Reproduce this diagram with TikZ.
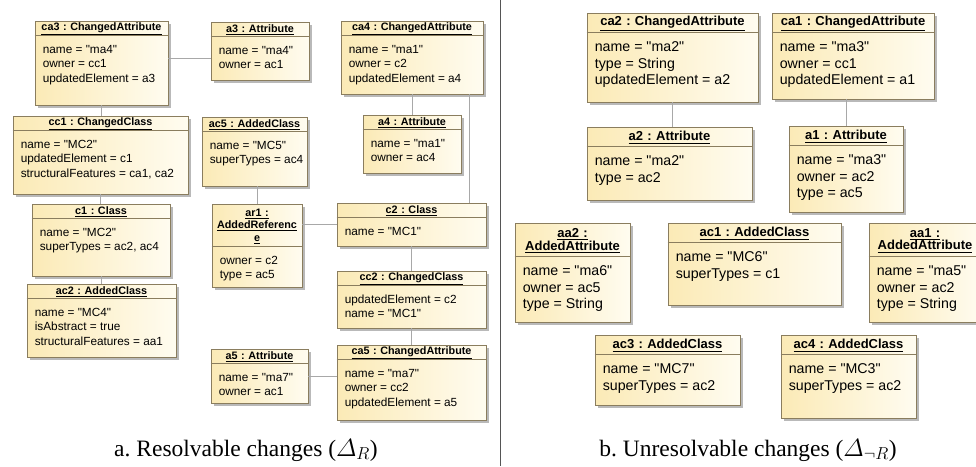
\documentclass[tikz,border=0pt]{standalone}
\usepackage{amsmath,amssymb}
\usepackage{fontspec}
\setmainfont{Liberation Serif}
\newfontfamily\boxfont{Liberation Sans}
\usepackage{xcolor}
\usepackage{tikz}
\usetikzlibrary{calc,shadows}
\frenchspacing
\definecolor{boxfill}{HTML}{FBEAB6}
\definecolor{boxlight}{HTML}{FFFCF0}
\definecolor{boxedge}{HTML}{8A7D5E}
\definecolor{linkgray}{HTML}{A8A8A8}
\definecolor{divider}{HTML}{555555}
\tikzset{
  objbox/.style={draw=boxedge, line width=0.8pt, left color=boxfill, right color=boxlight, inner sep=0pt,
    drop shadow={shadow xshift=2.5pt, shadow yshift=-2.5pt, fill=black!50, opacity=0.55}},
  objsep/.style={draw=boxedge, line width=0.7pt},
  objhead/.style={inner sep=0pt, align=center, font=\boxfont\bfseries\fontsize{10.8}{12.5}\selectfont},
  objtext/.style={inner sep=0pt, align=left, anchor=north west, font=\boxfont\fontsize{11.8}{14.5}\selectfont},
  link/.style={draw=linkgray, line width=0.8pt},
  divline/.style={draw=divider, line width=1pt},
  caption/.style={anchor=base, font=\fontsize{23.5}{26}\selectfont},
}
% #1 name, #2 x, #3 y, #4 width, #5 height, #6 header height, #7 title, #8 slots
\newcommand{\umlobj}[8]{%
  \node[objbox, minimum width=#4, minimum height=#5] (#1) at ({#2+#4/2},{#3+#5/2}) {};
  \draw[objsep] ([yshift=-#6]#1.north west) -- ([yshift=-#6]#1.north east);
  \node[objhead, text width=#4] (#1-head) at ([yshift=-#6/2-1]#1.north) {#7};
  \node[objtext] (#1-body) at ([xshift=8, yshift=-#6-7.5]#1.north west) {\strut#8};
}

\begin{document}
\begin{tikzpicture}[x=1pt, y=-1pt]
  \useasboundingbox (0,0) rectangle (976,466);

  % a. resolvable changes
  \umlobj{ca3}{35}{21}{133}{84}{15}{\underline{ca3 : ChangedAttribute}}{name = "ma4"\\owner = cc1\\updatedElement = a3}
  \umlobj{a3}{211}{22}{98}{58}{15}{\underline{a3 : Attribute}}{name = "ma4"\\owner = ac1}
  \umlobj{ca4}{341}{21}{142}{73}{15}{\underline{ca4 : ChangedAttribute}}{name = "ma1"\\owner = c2\\updatedElement = a4}
  \umlobj{cc1}{13}{116}{175}{78}{15}{\underline{cc1 : ChangedClass}}{name = "MC2"\\updatedElement = c1\\structuralFeatures = ca1, ca2}
  \umlobj{ac5}{202}{117}{105}{69}{15}{\underline{ac5 : AddedClass}}{name = "MC5"\\superTypes = ac4}
  \umlobj{a4}{363}{115}{98}{58}{15}{\underline{a4 : Attribute}}{name = "ma1"\\owner = ac4}
  \umlobj{c1}{32}{204}{138}{72}{15}{\underline{c1 : Class}}{name = "MC2"\\superTypes = ac2, ac4}
  \umlobj{ar1}{212}{204}{90}{83}{43}{\underline{ar1 :}\\\underline{AddedReferenc}\\\underline{e}}{owner = c2\\type = ac5}
  \umlobj{c2}{337}{203}{149}{43}{15}{\underline{c2 : Class}}{name = "MC1"}
  \umlobj{cc2}{337}{271}{149}{57}{15}{\underline{cc2 : ChangedClass}}{updatedElement = c2\\name = "MC1"}
  \umlobj{ac2}{27}{284}{149}{73}{15}{\underline{ac2 : AddedClass}}{name = "MC4"\\isAbstract = true\\structuralFeatures = aa1}
  \umlobj{a5}{211}{349}{97}{54}{15}{\underline{a5 : Attribute}}{name = "ma7"\\owner = ac1}
  \umlobj{ca5}{337}{345}{149}{75}{15}{\underline{ca5 : ChangedAttribute}}{name = "ma7"\\owner = cc2\\updatedElement = a5}

  \coordinate (ca3a3) at ([yshift=5]ca3.east);
  \coordinate (ca4c2) at ([xshift=57]ca4.south);
  \draw[link] (ca3a3) -- (ca3a3 -| a3.west);
  \draw[link] (ca4c2) -- (ca4c2 |- c2.north);
  \draw[link] (ca3.south) -- (ca3.south |- cc1.north);
  \draw[link] (cc1.south) -- (cc1.south |- c1.north);
  \draw[link] (c1.south) -- (c1.south |- ac2.north);
  \draw[link] (ca4.south) -- (ca4.south |- a4.north);
  \draw[link] (ar1.north) -- (ar1.north |- ac5.south);
  \draw[link] (c2.west) -- (c2.west -| ar1.east);
  \draw[link] (c2.south) -- (c2.south |- cc2.north);
  \draw[link] (cc2.south) -- (cc2.south |- ca5.north);
  \draw[link] (a5.east) -- (a5.east -| ca5.west);

  \coordinate (divtop) at (500,0);
  \coordinate (divbot) at (500,466);
  \draw[divline] (divtop) -- (divbot);

  % b. unresolvable changes
  \begin{scope}[objhead/.append style={font=\boxfont\bfseries\fontsize{13}{12.5}\selectfont},
                objtext/.append style={font=\boxfont\fontsize{14.2}{16.5}\selectfont}]
  \umlobj{ca2}{587}{13}{171}{89}{20}{\underline{ca2 : ChangedAttribute}}{name = "ma2"\\type = String\\updatedElement = a2}
  \umlobj{ca1}{772}{13}{162}{86}{20}{\underline{ca1 : ChangedAttribute}}{name = "ma3"\\owner = cc1\\updatedElement = a1}
  \umlobj{a2}{587}{127}{165}{73}{20}{\underline{a2 : Attribute}}{name = "ma2"\\type = ac2}
  \umlobj{a1}{789}{126}{114}{86}{20}{\underline{a1 : Attribute}}{name = "ma3"\\owner = ac2\\type = ac5}
  \umlobj{aa2}{515}{223}{115}{99}{34}{\underline{aa2 :}\\\underline{AddedAttribute}}{name = "ma6"\\owner = ac5\\type = String}
  \umlobj{ac1}{668}{223}{173}{82}{20}{\underline{ac1 : AddedClass}}{name = "MC6"\\superTypes = c1}
  \umlobj{aa1}{869}{223}{112}{99}{34}{\underline{aa1 :}\\\underline{AddedAttribute}}{name = "ma5"\\owner = ac2\\type = String}
  \umlobj{ac3}{595}{335}{145}{70}{20}{\underline{ac3 : AddedClass}}{name = "MC7"\\superTypes = ac2}
  \umlobj{ac4}{781}{335}{135}{83}{20}{\underline{ac4 : AddedClass}}{name = "MC3"\\superTypes = ac2}
  \end{scope}

  \draw[link] (ca2.south) -- (ca2.south |- a2.north);
  \draw[link] (a1.north) -- (a1.north |- ca1.south);

  \node[caption] (capA) at (246,456) {a. Resolvable changes ($\varDelta_R$)};
  \node[caption] (capB) at (748,456) {b. Unresolvable changes ($\varDelta_{\neg R}$)};
\end{tikzpicture}
\end{document}
